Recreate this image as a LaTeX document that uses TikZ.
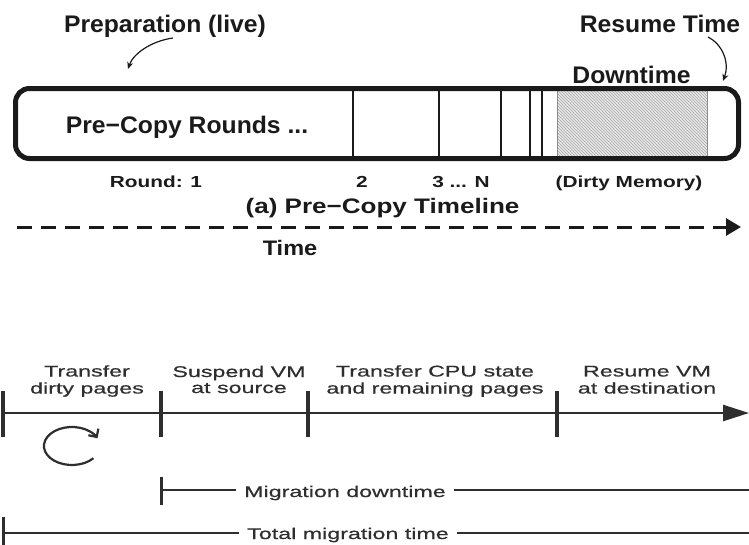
\documentclass[tikz,border=0pt]{standalone}
\usepackage{fontspec}
\usetikzlibrary{arrows.meta,patterns}
\setmainfont{Liberation Sans}
% widened sans families for the different label groups
\newfontfamily\headfnt[FakeStretch=1.03]{Liberation Sans}
\newfontfamily\capfnt[FakeStretch=1.24]{Liberation Sans}
\newfontfamily\timefnt[FakeStretch=1.12]{Liberation Sans}
\newfontfamily\roundfnt[FakeStretch=1.3]{Liberation Sans}
\newfontfamily\phasefnt[FakeStretch=1.5,FakeBold=0.6]{Liberation Sans}

\definecolor{ink}{HTML}{1A1A1A}
\definecolor{soft}{HTML}{2E2E2E}
\definecolor{hatchbg}{HTML}{E6E6E6}
\definecolor{hatchln}{HTML}{ABABAB}
\definecolor{hatchedge}{HTML}{8C8C8C}

\tikzset{
  headtxt/.style={text=ink, font=\headfnt\bfseries\fontsize{24}{28}\selectfont, inner sep=0pt},
  captxt/.style={text=ink, font=\capfnt\bfseries\fontsize{21}{25}\selectfont, inner sep=0pt},
  timetxt/.style={text=ink, font=\timefnt\bfseries\fontsize{21}{25}\selectfont, inner sep=0pt},
  roundtxt/.style={text=ink, font=\roundfnt\bfseries\fontsize{16}{19}\selectfont, inner sep=0pt},
  phasetxt/.style={text=soft, font=\phasefnt\fontsize{15.5}{16}\selectfont, align=center, inner sep=0pt},
  spantxt/.style={text=soft, font=\phasefnt\fontsize{15.5}{16}\selectfont, inner ysep=0pt, inner xsep=8pt},
  pointer/.style={draw=ink, line width=1.2pt, -{Stealth[length=7pt,width=6pt]}},
  roundline/.style={draw=ink, line width=1.3pt},
  tick/.style={draw=soft, line width=4.5pt},
  spantick/.style={draw=soft, line width=3pt},
  spanline/.style={draw=soft, line width=2pt},
}

\begin{document}
\begin{tikzpicture}[x=1pt,y=-1pt]
\useasboundingbox (0,0) rectangle (749,544);

% ---------- pre-copy timeline bar ----------
\fill[hatchbg] (557,91) rectangle (707,156);
\fill[pattern=north west lines, pattern color=hatchln] (557,91) rectangle (707,156);
\draw[hatchedge, line width=1pt] (557,91) -- (557,156) (707,91) -- (707,156);
\foreach \x in {353,439,501,530,542}
  \draw[roundline] (\x,91) -- (\x,156);
\draw[ink, line width=5pt, rounded corners=14pt] (15.5,88.5) rectangle (738.5,158.5);

\node[headtxt, anchor=base] (rounds) at (187,133) {Pre−Copy Rounds ...};

% ---------- headings and pointers ----------
\node[headtxt, anchor=base] (prep)   at (165,32) {Preparation (live)};
\node[headtxt, anchor=base] (resume) at (660,32) {Resume Time};
\node[headtxt, anchor=base] (down)   at (631.5,83) {Downtime};

\coordinate (prepFrom) at (173,38);
\coordinate (prepTo)   at (128,69);
\draw[pointer] (prepFrom) .. controls (151,41) and (133,54) .. (prepTo);

\coordinate (resFrom) at (708,37);
\coordinate (resTo)   at (723,81);
\draw[pointer] (resFrom) .. controls (722,44) and (730,62) .. (resTo);

% ---------- round labels ----------
\node[roundtxt, anchor=base] (r1) at (156,187) {Round: 1};
\node[roundtxt, anchor=base] (r2) at (362,187) {2};
\node[roundtxt, anchor=base] (r3) at (461,187) {3 ... N};
\node[roundtxt, anchor=base] (rd) at (629,187) {(Dirty Memory)};

\node[captxt, anchor=base] (cap) at (382.5,213) {(a) Pre−Copy Timeline};

% ---------- dashed time arrow ----------
\coordinate (tStart) at (17,227);
\coordinate (tEnd)   at (741,227);
\draw[ink, line width=3pt, dash pattern=on 15pt off 9pt,
      -{Triangle[length=15pt,width=17pt]}] (tStart) -- (tEnd);
\node[timetxt, anchor=base] (time) at (290,255) {Time};

% ---------- migration phases ----------
\coordinate (axS) at (3,413);
\coordinate (axE) at (749,413);
\draw[soft, line width=2.5pt, -{Triangle[length=26pt,width=16pt]}] (axS) -- (axE);
\foreach \x in {3,161,308,557}
  \draw[tick] (\x,391) -- (\x,437);

\node[phasetxt] (p1) at (87,381.8)  {\strut Transfer\\\strut dirty pages};
\node[phasetxt] (p2) at (239,381.8) {\strut Suspend VM\\\strut at source};
\node[phasetxt] (p3) at (435,381.8) {\strut Transfer CPU state\\\strut and remaining pages};
\node[phasetxt] (p4) at (647,381.8) {\strut Resume VM\\\strut at destination};

% repeat marker under the first phase
\draw[soft, line width=2.2pt, -{Straight Barb[length=6pt,width=12pt]}]
  (93.4,458.2) arc[start angle=40, end angle=336, x radius=28, y radius=19];

% ---------- downtime span ----------
\coordinate (dtTick) at (161,490);
\coordinate (dtEnd)  at (749,490);
\draw[spantick] (161,477) -- (161,505);
\node[spantxt, anchor=base] (dt) at (345,497) {Migration downtime};
\draw[spanline] (dtTick) -- (dtTick -| dt.west);
\draw[spanline] (dtTick -| dt.east) -- (dtEnd);

% ---------- total time span ----------
\coordinate (ttTick) at (3,533);
\coordinate (ttEnd)  at (749,533);
\draw[spantick] (3,517) -- (3,546);
\node[spantxt, anchor=base] (tt) at (348,539) {Total migration time};
\draw[spanline] (ttTick) -- (ttTick -| tt.west);
\draw[spanline] (ttTick -| tt.east) -- (ttEnd);
\end{tikzpicture}
\end{document}
